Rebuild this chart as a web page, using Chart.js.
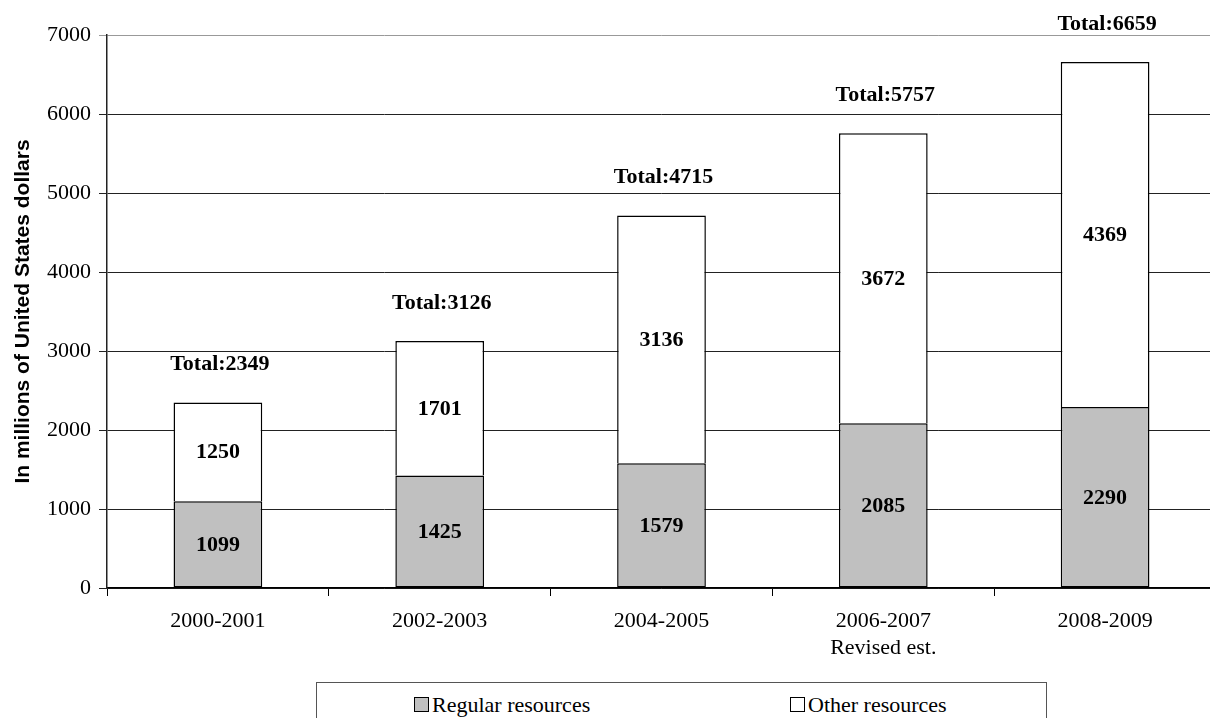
<!DOCTYPE html>
<html>
<head>
<meta charset="utf-8">
<script src="https://cdn.jsdelivr.net/npm/chart.js@4.4.1/dist/chart.umd.min.js"></script>
<style>
  html, body { margin: 0; padding: 0; background: #fff; overflow: hidden; }
  #wrap { position: absolute; left: 0; top: 0; width: 1226px; height: 718px; }
  #legend {
    position: absolute; left: 316px; top: 682px; width: 729px; height: 60px;
    border: 1px solid #555; background: #fff;
    font-family: "Liberation Serif", "Times New Roman", serif; font-size: 22px; color: #000;
  }
  .legend-item { position: absolute; top: 10px; line-height: 24px; white-space: nowrap; }
  .legend-color {
    display: inline-block; width: 13px; height: 13px; border: 1px solid #000;
    margin-right: 3px; vertical-align: 0px;
  }
</style>
</head>
<body>
<div id="wrap"><canvas id="barChart"></canvas></div>
<div id="legend"></div>
<script>
// --- Data ---
const categories = ['2000-2001', '2002-2003', '2004-2005', ['2006-2007', 'Revised est.'], '2008-2009'];
const regularResources = [1099, 1425, 1579, 2085, 2290];
const otherResources = [1250, 1701, 3136, 3672, 4369];
const totals = [2349, 3126, 4715, 5757, 6659];
const seriesNames = ['Regular resources', 'Other resources'];
const seriesColors = ['#c0c0c0', '#ffffff'];

const serif = '"Liberation Serif", "Times New Roman", serif';

// --- Values inside the bars and totals above them ---
const barLabels = {
  id: 'barLabels',
  afterDatasetsDraw(chart) {
    const ctx = chart.ctx;
    ctx.save();
    ctx.fillStyle = '#000';
    ctx.font = 'bold 22px ' + serif;
    ctx.textAlign = 'center';
    ctx.textBaseline = 'middle';
    chart.data.datasets.forEach((ds, di) => {
      const meta = chart.getDatasetMeta(di);
      meta.data.forEach((bar, i) => {
        const p = bar.getProps(['x', 'y', 'base'], true);
        ctx.fillText(String(ds.data[i]), p.x, (p.y + p.base) / 2 + 1);
      });
    });
    const top = chart.getDatasetMeta(chart.data.datasets.length - 1);
    top.data.forEach((bar, i) => {
      const p = bar.getProps(['x', 'y'], true);
      ctx.fillText('Total:' + totals[i], p.x + 2, p.y - 38);
    });
    ctx.restore();
  }
};

const barCtx = document.getElementById('barChart').getContext('2d');
new Chart(barCtx, {
  type: 'bar',
  data: {
    labels: categories,
    datasets: [
      {
        label: seriesNames[0],
        data: regularResources,
        backgroundColor: seriesColors[0],
        borderColor: '#000',
        borderWidth: 1.5,
        borderSkipped: false,
        barPercentage: 0.4,
        categoryPercentage: 1
      },
      {
        label: seriesNames[1],
        data: otherResources,
        backgroundColor: seriesColors[1],
        borderColor: '#000',
        borderWidth: { top: 1.5, left: 1.5, right: 1.5, bottom: 0 },
        borderSkipped: false,
        barPercentage: 0.4,
        categoryPercentage: 1
      }
    ]
  },
  options: {
    responsive: true,
    maintainAspectRatio: false,
    animation: false,
    layout: { padding: { top: 35, right: 10, bottom: 0, left: 0 } },
    plugins: {
      legend: { display: false },
      tooltip: { enabled: false }
    },
    scales: {
      x: {
        stacked: true,
        grid: { display: true, drawOnChartArea: false, drawTicks: true, tickLength: 8, color: '#000', offset: true },
        border: { display: true, color: '#000', width: 1.5 },
        ticks: {
          color: '#000',
          padding: 11,
          maxRotation: 0,
          font: { family: serif, size: 22, lineHeight: 1.25 }
        },
        afterFit(scale) { scale.height = 130; }
      },
      y: {
        stacked: true,
        min: 0,
        max: 7000,
        grid: {
          color: (c) => (c.tick && c.tick.value === 7000 ? '#999' : '#222'),
          lineWidth: 1,
          tickLength: 8
        },
        border: { display: true, color: '#222', width: 1.5 },
        ticks: {
          stepSize: 1000,
          color: '#000',
          padding: 8,
          font: { family: serif, size: 22 },
          callback: (v) => String(v)
        },
        title: {
          display: true,
          text: 'In millions of United States dollars',
          color: '#000',
          font: { family: '"Liberation Sans", Arial, sans-serif', size: 21, weight: 'bold', lineHeight: 1.2 },
          padding: { top: 11, bottom: 0 }
        },
        afterFit(scale) { scale.width = 107; }
      }
    }
  },
  plugins: [barLabels]
});

// --- Legend box below the chart ---
const legend = document.getElementById('legend');
const legendLeft = [97, 473];
seriesNames.forEach((name, i) => {
  legend.innerHTML += `
    <div class="legend-item" style="left:${legendLeft[i]}px">
      <span class="legend-color" style="background:${seriesColors[i]}"></span>${name}
    </div>`;
});
</script>
</body>
</html>
